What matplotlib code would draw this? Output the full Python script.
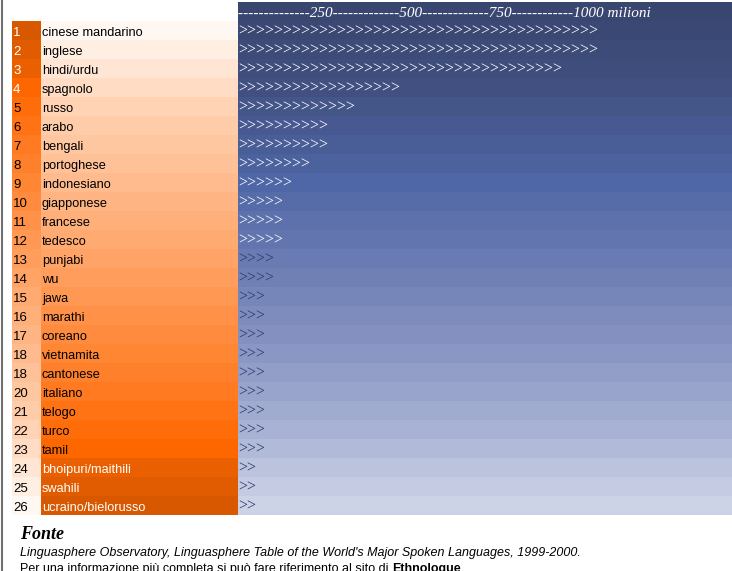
import numpy as np
import matplotlib.pyplot as plt
from matplotlib.colors import LinearSegmentedColormap

# dati: lingue piu parlate (milioni di parlanti)
ranks = ["1", "2", "3", "4", "5", "6", "7", "8", "9", "10", "11", "12", "13",
         "14", "15", "16", "17", "18", "18", "20", "21", "22", "23", "24", "25", "26"]
lingue = ["cinese mandarino", "inglese", "hindi/urdu", "spagnolo", "russo", "arabo",
          "bengali", "portoghese", "indonesiano", "giapponese", "francese", "tedesco",
          "punjabi", "wu", "jawa", "marathi", "coreano", "vietnamita", "cantonese",
          "italiano", "telogo", "turco", "tamil", "bhoipuri/maithili", "swahili",
          "ucraino/bielorusso"]
milioni = [1000, 1000, 900, 450, 325, 250, 250, 200, 150, 125, 125, 125, 100,
           100, 75, 75, 75, 75, 75, 75, 75, 75, 75, 50, 50, 50]
ticks = [250, 500, 750, 1000]

W, H = 732, 571
fig = plt.figure(figsize=(W / 100, H / 100), dpi=100)
ax = fig.add_axes([0, 0, 1, 1])
ax.set_xlim(0, W)
ax.set_ylim(H, 0)
ax.axis("off")

n = len(lingue)
row_h = 19
top = 21 + row_h * np.arange(n)

# colori
orange = LinearSegmentedColormap.from_list("or", [
    (0, "#FFF7F1"), (4 / 25, "#FFD2B3"), (11 / 25, "#FFAA70"), (19 / 25, "#FF7A20"),
    (22 / 25, "#FF6600"), (23 / 25, "#EA6000"), (1, "#D85800")])
blue = LinearSegmentedColormap.from_list("bl", [
    (0, "#394670"), (4 / 26, "#415081"), (9 / 26, "#4F67A6"), (13 / 26, "#6A7AB2"),
    (18 / 26, "#8A97C4"), (22 / 26, "#A7B2D4"), (1, "#CDD3E6")])
name_cols = [orange(i / (n - 1)) for i in range(n)]
rank_cols = name_cols[::-1]
blue_cols = [blue((i + 1) / n) for i in range(n)]

# celle della tabella
ax.barh(top, 29, height=row_h, left=12, align="edge", color=rank_cols)
ax.barh(top, 238 - 41, height=row_h, left=41, align="edge", color=name_cols)
ax.barh(top, W - 238, height=row_h, left=238, align="edge", color=blue_cols)
ax.barh([2], W - 238, height=row_h, left=238, align="edge", color=blue(0))

# intestazione scala
dashes = [14, 13, 13, 12]
head = "".join("-" * d + str(t) for d, t in zip(dashes, ticks)) + " milioni"
ax.text(238, 17, head, family="Liberation Serif", style="italic", size=11,
        color="white", va="baseline")

for i in range(n):
    y = top[i] + 15
    ax.text(13, y, ranks[i], family="Liberation Sans", size=9.5,
            color="white" if i < 4 else "black", va="baseline")
    ax.text(42, y, lingue[i], family="Liberation Sans", size=9.2,
            color="white" if i >= 23 else "black", va="baseline")
    ax.text(238, top[i] + 14.5, ">" * int(round(milioni[i] / 25)),
            family="Liberation Serif", size=11.5,
            color="white" if i < 12 else "#2E3A6B", va="baseline")

# bordo sinistro
ax.plot([1.5, 1.5], [0, H], color="#707070", lw=1.5)

# fonte
ax.text(20, 539, "Fonte", family="Liberation Serif", style="italic", weight="bold",
        size=13, color="black", va="baseline")
ax.text(20, 556, "Linguasphere Observatory, Linguasphere Table of the World's Major "
        "Spoken Languages, 1999-2000.", family="Liberation Sans", style="italic",
        size=9, color="black", va="baseline")
t = ax.text(20, 572, "Per una informazione più completa si può fare riferimento al sito di ",
            family="Liberation Sans", size=9, color="black", va="baseline")
fig.canvas.draw()
bb = t.get_window_extent()
ax.text(bb.x1, 572, "Ethnologue", family="Liberation Sans", weight="bold", size=9,
        color="black", va="baseline")

fig.savefig("out.png", dpi=100)
